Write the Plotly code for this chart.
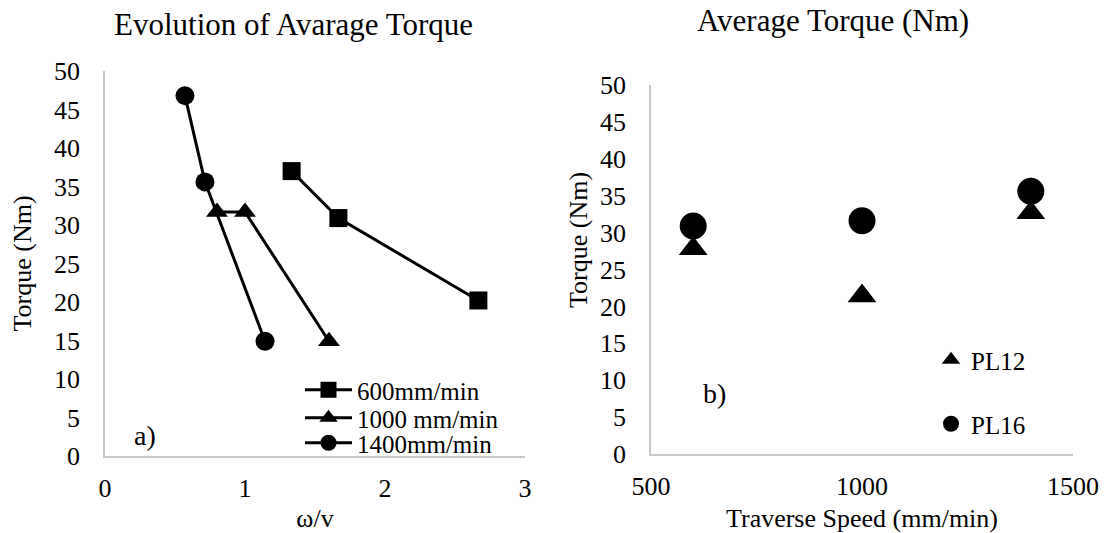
import plotly.graph_objects as go

# ---- data: left chart (Evolution of average torque vs omega/v) ----
series_names = ["600mm/min", "1000 mm/min", "1400mm/min"]
omega_v_600 = [1.333, 1.667, 2.667]
torque_600 = [37.0, 30.9, 20.2]
omega_v_1000 = [0.8, 1.0, 1.6]
torque_1000 = [31.7, 31.7, 14.9]
omega_v_1400 = [0.571, 0.714, 1.143]
torque_1400 = [46.8, 35.6, 14.9]

# ---- data: right chart (average torque vs traverse speed) ----
traverse_speed = [600, 1000, 1400]
torque_pl12 = [27.8, 21.4, 32.7]
torque_pl16 = [30.9, 31.6, 35.6]

y_ticks = [0, 5, 10, 15, 20, 25, 30, 35, 40, 45, 50]
x_ticks_left = [0, 1, 2, 3]
x_ticks_right = [500, 1000, 1500]

FONT = "Liberation Serif"
W, H = 1105, 533
ML, MR, MT, MB = 105, 32, 71, 77
PW, PH = W - ML - MR, H - MT - MB


def px(x):
    return (x - ML) / PW


def py(y):
    return (H - MB - y) / PH


fig = go.Figure()

line_style = dict(color="black", width=3)
fig.add_trace(go.Scatter(x=omega_v_600, y=torque_600, name=series_names[0],
                         mode="lines+markers", line=line_style,
                         marker=dict(symbol="square", size=18, color="black"),
                         xaxis="x", yaxis="y", legend="legend2"))
fig.add_trace(go.Scatter(x=omega_v_1000, y=torque_1000, name=series_names[1],
                         mode="lines+markers", line=line_style,
                         marker=dict(symbol="triangle-up", size=19, color="black"),
                         xaxis="x", yaxis="y", legend="legend3"))
fig.add_trace(go.Scatter(x=omega_v_1400, y=torque_1400, name=series_names[2],
                         mode="lines+markers", line=line_style,
                         marker=dict(symbol="circle", size=19, color="black"),
                         xaxis="x", yaxis="y", legend="legend4"))

fig.add_trace(go.Scatter(x=traverse_speed, y=torque_pl12, name="PL12",
                         mode="markers",
                         marker=dict(symbol="triangle-up", size=25, color="black"),
                         xaxis="x2", yaxis="y2", legend="legend5"))
fig.add_trace(go.Scatter(x=traverse_speed, y=torque_pl16, name="PL16",
                         mode="markers",
                         marker=dict(symbol="circle", size=27, color="black"),
                         xaxis="x2", yaxis="y2", legend="legend6"))

tickfont = dict(family=FONT, size=26, color="black")
titlefont = dict(family=FONT, size=26, color="black")
axis_common = dict(showgrid=False, zeroline=False, showline=True,
                   linecolor="#c8c8c8", linewidth=1.5, ticks="",
                   tickfont=tickfont, fixedrange=True, automargin=False)

left_x_dom = [0, px(525)]
right_x_dom = [px(651), 1]

fig.update_layout(
    width=W, height=H,
    margin=dict(l=ML, r=MR, t=MT, b=MB, autoexpand=False),
    paper_bgcolor="white", plot_bgcolor="white",
    font=dict(family=FONT, color="black"),
    showlegend=True,
    xaxis=dict(domain=left_x_dom, range=[0, 3], tickvals=x_ticks_left,
               anchor="y", ticklabelstandoff=8,
               title=dict(text="ω/v", font=titlefont, standoff=10), **axis_common),
    yaxis=dict(domain=[0, 1], range=[0, 50], tickvals=y_ticks, anchor="x",
               ticklabelstandoff=18,
               title=dict(text="Torque (Nm)", font=titlefont, standoff=15), **axis_common),
    xaxis2=dict(domain=right_x_dom, range=[500, 1500], tickvals=x_ticks_right,
                anchor="y2", ticklabelstandoff=8,
                title=dict(text="Traverse Speed (mm/min)", font=titlefont, standoff=10),
                **axis_common),
    yaxis2=dict(domain=[py(454), py(85)], range=[0, 50], tickvals=y_ticks,
                anchor="x2", ticklabelstandoff=18, **axis_common),
)

leg_common = dict(font=dict(family=FONT, size=25, color="black"),
                  bgcolor="rgba(0,0,0,0)", borderwidth=0, visible=True,
                  xanchor="left", yanchor="middle", itemsizing="trace")
fig.update_layout(
    legend2=dict(x=px(300), y=py(390), itemwidth=47, **leg_common),
    legend3=dict(x=px(300), y=py(418), itemwidth=47, **leg_common),
    legend4=dict(x=px(300), y=py(443), itemwidth=47, **leg_common),
    legend5=dict(x=px(931), y=py(360), itemwidth=30, **leg_common),
    legend6=dict(x=px(931), y=py(424), itemwidth=30, **leg_common),
)

annots = [
    dict(text="Evolution of Avarage Torque", x=px(293), y=py(25), size=31, angle=0),
    dict(text="Average Torque (Nm)", x=px(833), y=py(20), size=31, angle=0),
    dict(text="Torque (Nm)", x=px(578), y=py(240), size=26, angle=-90),
    dict(text="a)", x=px(145), y=py(435), size=28, angle=0),
    dict(text="b)", x=px(714), y=py(393), size=28, angle=0),
]
for a in annots:
    fig.add_annotation(text=a["text"], x=a["x"], y=a["y"], xref="paper", yref="paper",
                       xanchor="center", yanchor="middle", showarrow=False,
                       textangle=a["angle"],
                       font=dict(family=FONT, size=a["size"], color="black"))

fig.write_html("out.html")
